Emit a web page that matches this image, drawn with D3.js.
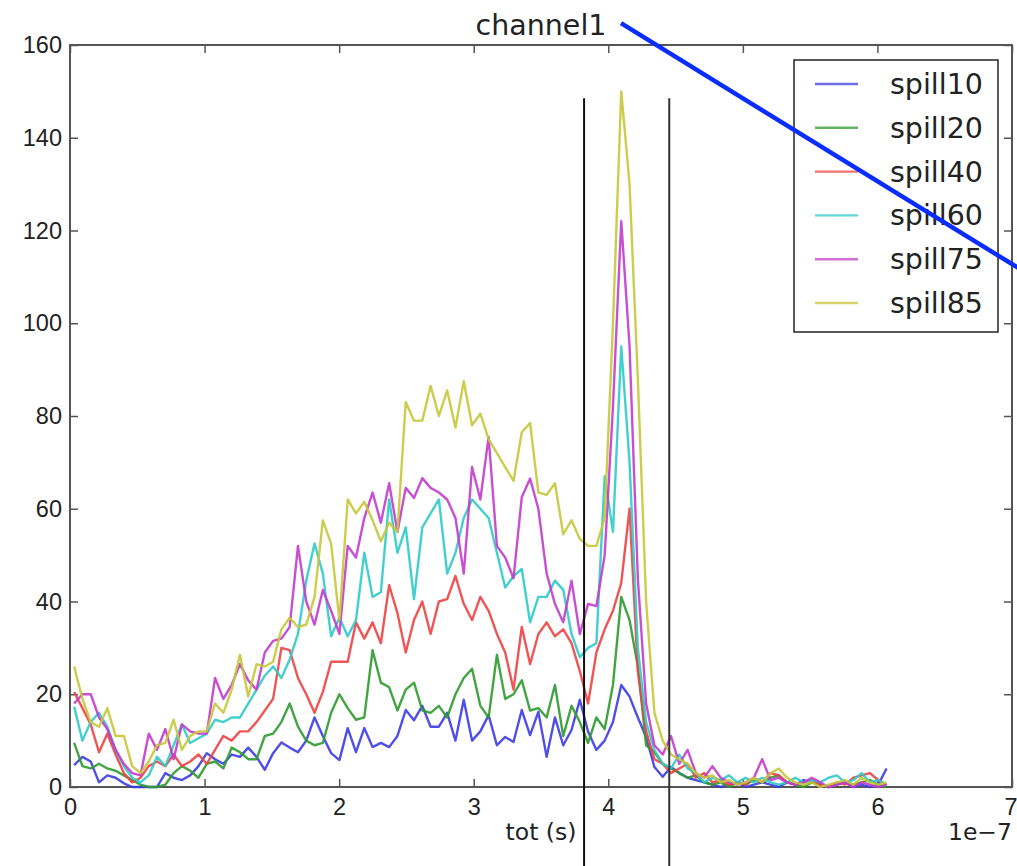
<!DOCTYPE html>
<html>
  <head>
    <meta charset="utf-8">
    <title>channel1</title>
    <script src="https://d3js.org/d3.v7.min.js"></script>
    <style>
      body { margin: 0; background: #fff; }
      svg { display: block; font-family: "DejaVu Sans", sans-serif; }
      .tick text { fill: #222; font-size: 23.5px; }
      .tick line { stroke: #555; stroke-width: 1.5; }
    </style>
  </head>
  <body>
    <div id="chart"></div>
    <script>
      // histogram bins (tot in seconds)
      var binWidth = 6.16e-9;
      var xTicks = [0, 1, 2, 3, 4, 5, 6, 7];
      var yTicks = [0, 20, 40, 60, 80, 100, 120, 140, 160];
      var seriesNames = ["spill10", "spill20", "spill40", "spill60", "spill75", "spill85"];
      var seriesColors = ["#3c3ce6", "#2f9a2f", "#ee4242", "#30caca", "#c23ccc", "#c6c63a"];

      var spill10 = [4.7, 6.5, 5.5, 1, 2.5, 2, 0.8, 0, 0, 0, 0, 3, 2, 1.5, 2.5, 4.5, 7.3, 6, 5, 7,
        6.5, 8.5, 6.5, 3.7, 7.3, 9.6, 8.5, 7.5, 10, 15, 11, 7.3, 5.8, 12.7, 7.5, 12.7, 8.6, 9.5, 8.6, 11,
        16.6, 14.4, 17.5, 13, 13, 16, 10, 18.8, 10, 12, 15.5, 9, 10.8, 9.7, 16.6, 11.2, 16.2, 6.5, 15, 9,
        12.3, 18.8, 11.9, 8, 10, 14, 22, 19.5, 15, 10.8, 4.3, 2.2, 4.3, 3, 2, 1.5, 1, 0.5, 0, 0.5,
        1, 0, 0.5, 1, 0.5, 0, 1, 0.5, 1.5, 1, 0.5, 0, 0.5, 1, 0, 0.5, 0, 0.5, 4];
      var spill20 = [9.5, 4.5, 4, 5, 4, 3.5, 2.5, 1.5, 0.5, 0, 0, 0.5, 3, 4.5, 3.5, 2, 5, 5.5, 4, 8.5,
        7.5, 6, 6, 11, 11.5, 14, 18, 13, 10, 9, 9.5, 16, 20, 17, 14.5, 15, 29.5, 22.5, 21.5, 16.5,
        21, 22.5, 16.5, 16, 17.5, 15, 20, 23.5, 25.5, 17.5, 15, 28.5, 19, 20, 23, 16.5, 17, 15, 22, 11,
        17.5, 14, 9.5, 15, 12.5, 22, 41, 36, 26, 9, 7.5, 5, 4, 3, 2, 2.5, 1, 0.5, 1, 0,
        1, 0.5, 1.5, 1, 2, 2.5, 1, 0.5, 0, 1, 0.5, 0, 0.5, 1, 0.5, 1, 1.5, 0.5, 0];
      var spill40 = [20.5, 17, 13.5, 7.5, 11.5, 7, 3, 1, 2, 4.5, 5.5, 4.5, 7, 4.5, 5.5, 7, 5, 8, 11, 10,
        12, 12, 14, 16.5, 19, 30, 29.5, 23.5, 20, 16, 20.5, 27, 27, 27, 35.5, 32, 35.5, 31, 43.5, 37.5,
        29, 36, 40, 33, 40, 40.5, 45.5, 39.5, 36, 41, 38, 33, 29, 21, 34.5, 26.5, 33, 35.5, 32.5, 34,
        31, 25, 18, 29, 34, 38, 44, 60, 25, 12, 6, 5, 3, 4, 5, 2, 3, 1, 1.5, 0.5,
        1, 0.5, 2, 1, 3, 2.5, 1, 0.5, 1, 1.5, 0.5, 0, 1, 0.5, 2, 2.5, 3, 1.5, 0.5];
      var spill60 = [17.3, 10, 14, 16, 13, 8, 4.5, 2, 1, 2.5, 6.5, 4.5, 9, 13.5, 9.5, 10.5, 11.5, 14.5, 14, 15,
        15, 18, 21, 24, 26, 23.5, 27.5, 33, 44.5, 52.5, 46, 32.5, 36.5, 32.5, 36, 50.5, 41, 42, 62, 50.5,
        56, 40.5, 56, 59, 62, 46, 50.5, 58, 62, 60, 58, 50.5, 43, 45.5, 47, 35.5, 41, 41, 44.5, 42.5,
        33, 28, 30, 31, 67, 55, 95, 70, 30, 14, 8, 5, 4, 7, 4, 3, 1, 2, 1.5, 2.5,
        1, 2, 1, 2, 1, 0.5, 1, 2, 1, 1.5, 1, 2, 2.5, 1, 1.5, 3, 1, 1.5, 0.5];
      var spill75 = [18, 20, 20, 15, 12.5, 8, 5, 3, 2.5, 11.5, 8, 12.5, 6, 13.5, 12, 11.5, 11.5, 23.5, 19, 22,
        26.5, 23, 21, 29, 31.5, 32, 34.5, 52, 40, 35, 42.5, 38, 33, 52, 49.5, 58, 63.5, 57, 65.5, 55,
        64.5, 62.3, 66.6, 64.5, 63.5, 62, 58, 46, 69, 62, 75.5, 52, 49.5, 45, 62.5, 66.5, 60, 46, 39.5, 35.5,
        44.5, 33, 39.5, 39, 50, 82, 122, 95, 45, 18, 9, 7, 11, 5, 8, 3, 2, 4.5, 2, 1,
        0.5, 1, 2, 6, 1.5, 2, 1, 0.5, 1, 2, 1, 0, 0.5, 1, 0, 1, 0.5, 0, 0.5];
      var spill85 = [26, 19, 14, 13, 17, 11, 11, 4.5, 3, 5.5, 9, 9.5, 14.5, 8, 11, 12, 12, 18, 16, 21,
        28.5, 19.5, 26.5, 26, 27, 34, 36.5, 34.5, 35, 41, 57.5, 52.5, 36, 62, 59, 61.5, 57.5, 53, 57, 55,
        83, 79, 79, 86.5, 80, 85.5, 77.5, 87.5, 78, 80.5, 75, 72, 69, 66, 76.5, 78.5, 63.5, 63, 65.5, 54.5,
        57.5, 53.5, 52, 52, 58, 100, 150, 130, 88, 40, 16, 10, 7, 6, 5, 3, 2, 2.5, 1, 1.5,
        0.5, 1, 2, 1, 3, 4, 2, 1, 0.5, 1, 0, 0.5, 1, 1.5, 0.5, 2, 1, 0.5, 1];
      var seriesValues = [spill10, spill20, spill40, spill60, spill75, spill85];

      // cut lines (x in seconds, y span) and the blue annotation stroke
      var cutLines = [3.82e-7, 4.453e-7];
      var cutSpan = [148.5, -20];
      var annotation = [[4.0945e-7, 164.7], [7.21e-7, 109]];

      var width = 1017, height = 866;
      var margin = { top: 45, right: 5, bottom: 79, left: 70 };

      var svg = d3.select("#chart")
        .append("svg")
          .attr("width", width)
          .attr("height", height);

      var x = d3.scaleLinear()
        .domain([0, 7e-7])
        .range([margin.left, width - margin.right]);
      var y = d3.scaleLinear()
        .domain([0, 160])
        .range([height - margin.bottom, margin.top]);

      // axes, ticks pointing inwards on all four sides
      function styleAxis(g) {
        g.select(".domain").remove();
        g.selectAll("text").attr("font-family", null).attr("font-size", null);
      }
      var bottomAxis = svg.append("g")
        .attr("transform", "translate(0," + y(0) + ")")
        .call(d3.axisBottom(x).tickValues(xTicks.map(function(d) { return d * 1e-7; }))
          .tickFormat(function(d) { return Math.round(d / 1e-7); })
          .tickSizeInner(-8).tickSizeOuter(0).tickPadding(11))
        .call(styleAxis);
      // last label sits on the page edge, keep it inside
      bottomAxis.selectAll(".tick text")
        .filter(function(d) { return Math.round(d / 1e-7) === 7; })
        .attr("text-anchor", "end")
        .attr("dx", "5");
      svg.append("g")
        .attr("transform", "translate(0," + y(160) + ")")
        .call(d3.axisTop(x).tickValues(xTicks.map(function(d) { return d * 1e-7; }))
          .tickFormat("").tickSizeInner(-8).tickSizeOuter(0))
        .call(styleAxis);
      svg.append("g")
        .attr("transform", "translate(" + x(0) + ",0)")
        .call(d3.axisLeft(y).tickValues(yTicks).tickFormat(d3.format("d"))
          .tickSizeInner(-8).tickSizeOuter(0).tickPadding(8))
        .call(styleAxis);
      svg.append("g")
        .attr("transform", "translate(" + x(7e-7) + ",0)")
        .call(d3.axisRight(y).tickValues(yTicks).tickFormat("")
          .tickSizeInner(-8).tickSizeOuter(0))
        .call(styleAxis);

      // frame
      svg.append("rect")
        .attr("x", x(0))
        .attr("y", y(160))
        .attr("width", x(7e-7) - x(0))
        .attr("height", y(0) - y(160))
        .attr("fill", "none")
        .attr("stroke", "#555")
        .attr("stroke-width", 2);

      // series lines
      var line = d3.line()
        .x(function(d, i) { return x((i + 0.5) * binWidth); })
        .y(function(d) { return y(d); });
      svg.append("g")
        .selectAll("path")
        .data(seriesValues)
        .enter().append("path")
          .attr("d", line)
          .attr("fill", "none")
          .attr("stroke", function(d, i) { return seriesColors[i]; })
          .attr("stroke-width", 2.4)
          .attr("stroke-opacity", 0.9)
          .attr("stroke-linejoin", "round");

      // vertical cut lines
      svg.append("g")
        .selectAll("line")
        .data(cutLines)
        .enter().append("line")
          .attr("x1", function(d) { return x(d); })
          .attr("x2", function(d) { return x(d); })
          .attr("y1", y(cutSpan[0]))
          .attr("y2", y(cutSpan[1]))
          .attr("stroke", function(d, i) { return i ? "#333" : "#111"; })
          .attr("stroke-width", 2);

      // text
      svg.append("text")
        .attr("x", (x(0) + x(7e-7)) / 2)
        .attr("y", 35)
        .attr("text-anchor", "middle")
        .attr("font-size", "28.5px")
        .attr("fill", "#222")
        .text("channel1");
      svg.append("text")
        .attr("x", (x(0) + x(7e-7)) / 2)
        .attr("y", 840)
        .attr("text-anchor", "middle")
        .attr("font-size", "23.5px")
        .attr("fill", "#222")
        .text("tot (s)");
      svg.append("text")
        .attr("x", x(7e-7))
        .attr("y", 840)
        .attr("text-anchor", "end")
        .attr("font-size", "23.5px")
        .attr("fill", "#222")
        .text("1e\u22127");

      // legend
      var legend = svg.append("g")
        .attr("transform", "translate(794,60)");
      legend.append("rect")
        .attr("width", 204)
        .attr("height", 272)
        .attr("fill", "#fff")
        .attr("stroke", "#222")
        .attr("stroke-width", 1.5);
      var entries = legend.selectAll(".entry")
        .data(seriesNames)
        .enter().append("g")
          .attr("transform", function(d, i) { return "translate(0," + (24 + i * 43.8) + ")"; });
      entries.append("line")
        .attr("x1", 21)
        .attr("x2", 64)
        .attr("stroke", function(d, i) { return seriesColors[i]; })
        .attr("stroke-width", 2.4)
        .attr("stroke-opacity", 0.75);
      entries.append("text")
        .attr("x", 96)
        .attr("y", 10)
        .attr("font-size", "28.5px")
        .attr("fill", "#222")
        .text(function(d) { return d; });

      // blue annotation stroke on top
      svg.append("path")
        .attr("d", d3.line().x(function(d) { return x(d[0]); }).y(function(d) { return y(d[1]); })(annotation))
        .attr("stroke", "#0a2dff")
        .attr("stroke-width", 4.5)
        .attr("fill", "none");
    </script>
  </body>
</html>
